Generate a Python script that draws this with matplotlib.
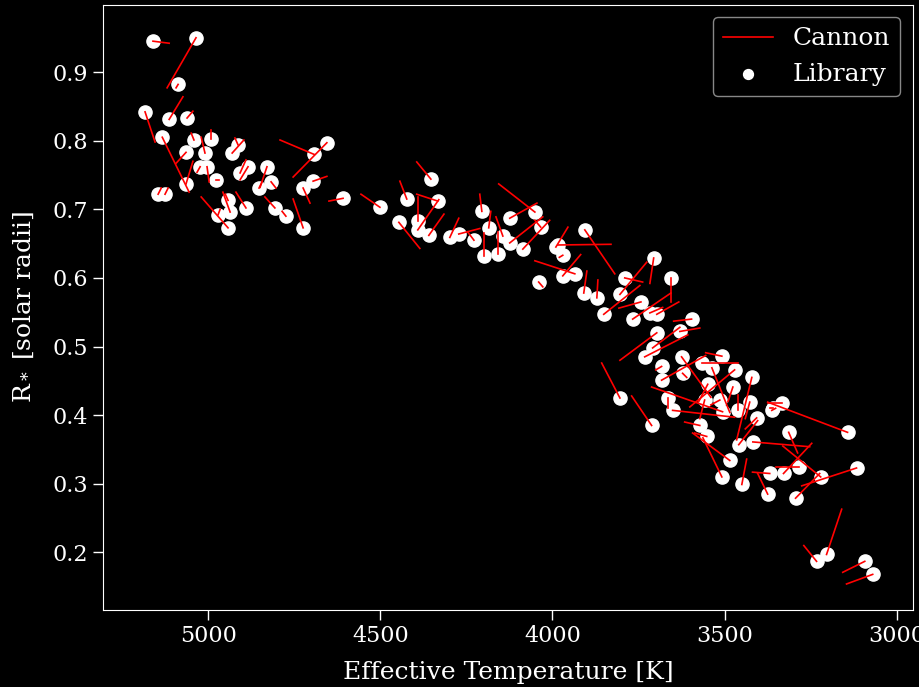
import numpy as np
import matplotlib
matplotlib.use("Agg")
import matplotlib.pyplot as plt

# library values (white dots) and Cannon predictions (red line ends)
teff_lib = [5160, 5035, 5087, 5183, 5113, 5061, 5133, 5041, 4991, 5009,
            5064, 5023, 5003, 4977, 5064, 5145, 5125, 4913, 4930, 4884,
            4907, 4829, 4817, 4852, 4942, 4971, 4936, 4942, 4890, 4806,
            4774, 4724, 4724, 4655, 4692, 4695, 4608, 4501, 4353, 4423,
            4333, 4446, 4391, 4391, 4359, 4298, 4272, 4228, 4205, 4185,
            4199, 4158, 4144, 4124, 4124, 4086, 4051, 4034, 4040, 3990,
            3984, 3970, 3906, 3970, 3935, 3909, 3871, 3790, 3804, 3706,
            3656, 3851, 3743, 3767, 3717, 3697, 3596, 3630, 3697, 3709,
            3732, 3683, 3625, 3508, 3804, 3683, 3622, 3567, 3537, 3471,
            3421, 3506, 3549, 3476, 3665, 3651, 3558, 3514, 3462, 3427,
            3407, 3360, 3712, 3572, 3552, 3459, 3418, 3485, 3508, 3450,
            3369, 3375, 3329, 3285, 3314, 3221, 3294, 3143, 3117, 3204,
            3233, 3093, 3070, 3334, 3363]
r_lib = [0.945, 0.950, 0.882, 0.842, 0.831, 0.833, 0.805, 0.801, 0.802, 0.782,
         0.783, 0.762, 0.762, 0.743, 0.737, 0.722, 0.722, 0.794, 0.782, 0.762,
         0.753, 0.762, 0.740, 0.731, 0.713, 0.692, 0.696, 0.673, 0.702, 0.702,
         0.690, 0.673, 0.731, 0.797, 0.780, 0.741, 0.716, 0.703, 0.744, 0.715,
         0.712, 0.681, 0.683, 0.670, 0.662, 0.659, 0.664, 0.655, 0.697, 0.673,
         0.632, 0.635, 0.661, 0.687, 0.651, 0.642, 0.696, 0.674, 0.594, 0.645,
         0.648, 0.633, 0.670, 0.603, 0.606, 0.578, 0.571, 0.600, 0.576, 0.629,
         0.600, 0.547, 0.565, 0.540, 0.549, 0.547, 0.540, 0.522, 0.520, 0.498,
         0.485, 0.471, 0.485, 0.486, 0.425, 0.451, 0.461, 0.476, 0.469, 0.466,
         0.455, 0.405, 0.445, 0.441, 0.425, 0.407, 0.422, 0.422, 0.407, 0.419,
         0.396, 0.410, 0.385, 0.385, 0.369, 0.357, 0.361, 0.334, 0.310, 0.299,
         0.315, 0.285, 0.315, 0.324, 0.375, 0.310, 0.279, 0.375, 0.323, 0.197,
         0.187, 0.187, 0.168, 0.418, 0.407]
teff_cannon = [5113, 5119, 5093, 5154, 5073, 5044, 5055, 5049, 4991, 5020,
               5093, 5032, 4997, 4968, 5044, 5136, 5116, 4922, 4896, 4907,
               4890, 4849, 4803, 4843, 4950, 4965, 4957, 5020, 4919, 4835,
               4785, 4753, 4704, 4753, 4791, 4655, 4649, 4556, 4394, 4443,
               4394, 4385, 4391, 4330, 4315, 4272, 4211, 4246, 4211, 4179,
               4199, 4158, 4164, 4045, 4028, 4008, 4156, 4051, 4028, 3955,
               3830, 3980, 3819, 3918, 4051, 3900, 3868, 3738, 3726, 3717,
               3656, 3746, 3807, 3656, 3680, 3633, 3648, 3572, 3804, 3630,
               3607, 3700, 3540, 3555, 3857, 3555, 3610, 3462, 3485, 3601,
               3465, 3712, 3575, 3490, 3665, 3471, 3572, 3540, 3462, 3440,
               3440, 3367, 3770, 3616, 3587, 3404, 3253, 3593, 3563, 3436,
               3419, 3404, 3247, 3352, 3288, 3331, 3224, 3375, 3276, 3160,
               3270, 3157, 3146, 3375, 3352]
r_cannon = [0.942, 0.877, 0.877, 0.798, 0.864, 0.843, 0.725, 0.811, 0.815, 0.805,
            0.767, 0.754, 0.740, 0.743, 0.770, 0.731, 0.731, 0.804, 0.801, 0.743,
            0.772, 0.732, 0.731, 0.740, 0.722, 0.700, 0.725, 0.718, 0.725, 0.718,
            0.697, 0.715, 0.709, 0.747, 0.801, 0.748, 0.712, 0.722, 0.769, 0.741,
            0.722, 0.643, 0.718, 0.714, 0.693, 0.687, 0.672, 0.667, 0.722, 0.697,
            0.665, 0.667, 0.689, 0.709, 0.689, 0.684, 0.737, 0.684, 0.587, 0.674,
            0.649, 0.630, 0.606, 0.634, 0.625, 0.610, 0.597, 0.594, 0.623, 0.592,
            0.565, 0.589, 0.556, 0.578, 0.557, 0.565, 0.537, 0.527, 0.480, 0.528,
            0.517, 0.466, 0.426, 0.491, 0.476, 0.487, 0.455, 0.476, 0.404, 0.412,
            0.364, 0.441, 0.420, 0.420, 0.410, 0.397, 0.395, 0.415, 0.430, 0.395,
            0.380, 0.410, 0.428, 0.390, 0.374, 0.392, 0.354, 0.374, 0.367, 0.336,
            0.317, 0.315, 0.359, 0.324, 0.345, 0.355, 0.315, 0.419, 0.297, 0.263,
            0.210, 0.171, 0.154, 0.418, 0.410]

plt.style.use('dark_background')
plt.rcParams['font.family'] = 'DejaVu Serif'
plt.rcParams['mathtext.fontset'] = 'dejavuserif'

fig = plt.figure(figsize=(9.2, 6.87), dpi=100)
ax = fig.add_axes([0.112, 0.112, 0.880, 0.881])

for i in range(len(teff_lib)):
    ax.plot([teff_lib[i], teff_cannon[i]], [r_lib[i], r_cannon[i]], color='r',
            lw=1.2, zorder=3, label='Cannon' if i == 0 else None)
ax.scatter(teff_lib, r_lib, color='white', s=90, zorder=2, label='Library')

ax.set_xlim(5305, 2954)
ax.set_ylim(0.116, 0.998)
ax.set_xticks([5000, 4500, 4000, 3500, 3000])
ax.set_yticks([0.2, 0.3, 0.4, 0.5, 0.6, 0.7, 0.8, 0.9])
ax.tick_params(labelsize=16, length=7, width=1)
ax.set_xlabel('Effective Temperature [K]', fontsize=18, labelpad=10)
ax.set_ylabel(r'R$_*$ [solar radii]', fontsize=18, labelpad=12)
leg = ax.legend(loc='upper right', fontsize=18, markerscale=0.75)
leg.get_frame().set_edgecolor('#aaaaaa')

fig.savefig('out.png', dpi=100)
